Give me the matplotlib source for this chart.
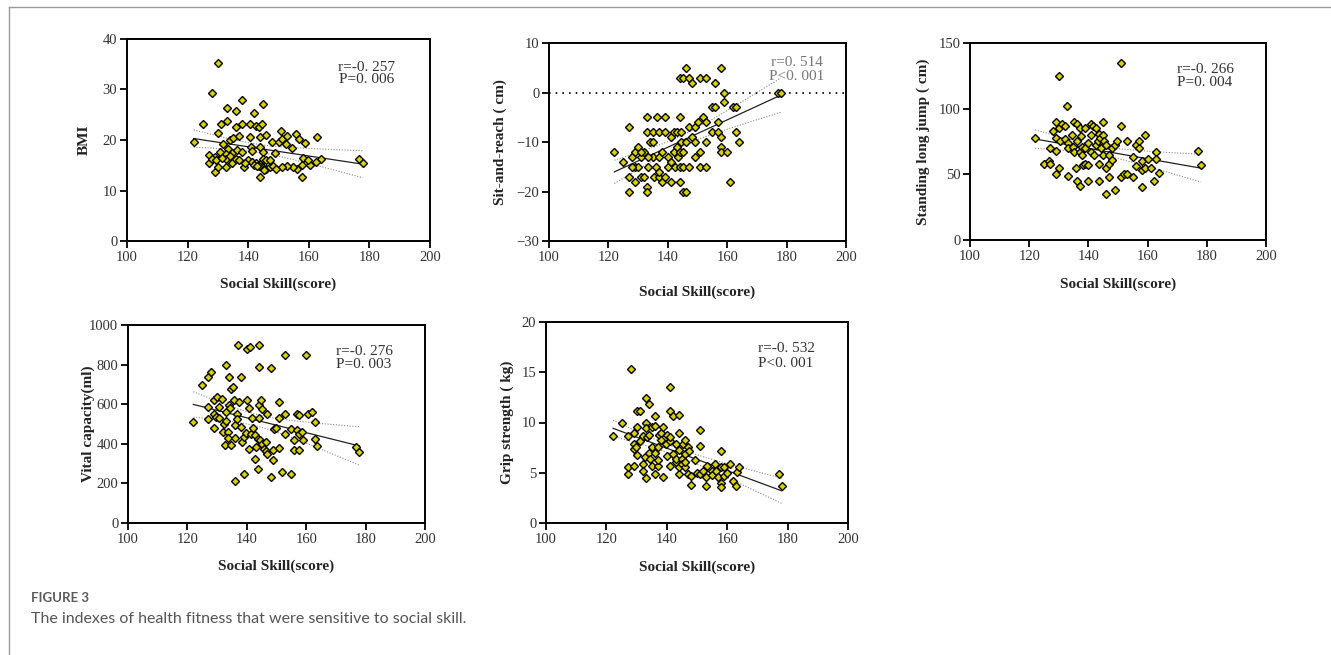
import numpy as np
import matplotlib
matplotlib.use("Agg")
import matplotlib.pyplot as plt
from matplotlib.lines import Line2D

plt.rcParams["font.family"] = ["Liberation Serif", "DejaVu Serif"]

# BMI
bmi_x = [122, 125, 130, 128, 127, 127, 129, 129, 130, 131,
         130, 133, 133, 136, 138, 142, 145, 136, 138, 140.5,
         142.7, 143.6, 144.7, 131.7, 134, 135, 136.8, 133.4, 130.6, 132.6,
         134.8, 136.3, 138.1, 141, 141.4, 140.7, 143.8, 145.8, 143.8, 144.9,
         148, 148.8, 150.8, 150.2, 151.3, 152.8, 152.6, 154.6, 155.7, 156.8,
         158.7, 162.8, 163.9, 162.3, 160.4, 158.1, 159.6, 157.6, 156, 154.8,
         152.9, 151.3, 157.7, 143.8, 176.7, 177.8,
         127.9, 129.5, 132.8, 134.8, 136.1, 137, 138.5, 140, 141.1, 142.5,
         143.8, 144.9, 145.8, 144.7, 143.6, 146, 147.1, 148.2, 149.1, 147.1,
         132.6, 134.1, 131.5, 139, 141.8, 143, 145.2]
bmi_y = [19.7, 23.2, 35.2, 29.3, 17.0, 15.5, 13.6, 16.7, 21.4, 23.1,
         14.7, 23.8, 26.4, 25.8, 27.9, 25.4, 27.2, 22.6, 23.1, 23.1,
         22.7, 22.6, 23.1, 19.3, 20.0, 20.4, 20.8, 18.3, 17.6, 17.2,
         17.5, 18.1, 17.7, 18.6, 17.9, 20.5, 20.5, 21.0, 18.6, 17.7,
         19.6, 17.5, 21.8, 19.6, 20.1, 20.8, 19.3, 18.4, 21.2, 20.1,
         19.4, 20.5, 16.3, 15.7, 15.0, 16.5, 16.1, 15.0, 14.3, 14.7,
         14.8, 14.7, 12.6, 12.7, 16.3, 15.5,
         16.3, 16.0, 14.7, 15.5, 16.3, 16.0, 14.7, 16.0, 15.7, 15.5,
         15.3, 16.3, 16.0, 14.7, 14.8, 14.3, 14.7, 14.9, 14.3, 16.0,
         16.3, 16.8, 16.5, 15.5, 15.1, 14.8, 14.0]

# Sit-and-reach
sr_x = [122, 125, 127, 127, 127, 128, 129, 129, 129, 130,
        130, 131, 131, 132, 133, 133, 133, 133, 132, 133.5,
        134, 135, 135, 135, 135.4, 136, 136.5, 137, 137, 137,
        137.2, 138, 138, 139, 139, 139, 140, 140, 141, 141,
        141, 142, 142, 142.5, 143, 143, 143.4, 144, 144, 144,
        144, 144, 145, 144.5, 144.5, 145, 145, 145, 146, 146,
        146, 147, 147, 147, 148, 148, 149, 149, 149, 150,
        151, 151, 151, 152, 153, 153, 153, 153, 155, 155,
        156, 156, 157, 157, 158, 158, 158, 158, 159, 159,
        160, 161, 162, 163, 163, 164, 177, 178, 128, 131,
        133.5]
sr_y = [-12, -14, -7, -17, -20, -13, -12, -15, -18, -11,
        -15, -13, -17, -17, -5, -8, -19, -20, -12, -15,
        -10, -10, -13, -8, -17, -15, -5, -8, -13, -17,
        -16, -12, -18, -5, -8, -17, -15, -13, -9, -14,
        -18, -8, -12, -15, -8, -11, -13, -15, -5, -12,
        -18, 3, 3, -8, -10, -12, -15, -20, -20, 5,
        -10, -15, -7, 3, 2, -9, -10, -7, -13, -6,
        -12, -15, 3, -5, 3, -6, -10, -15, -8, -3,
        -3, 2, -6, -8, 5, -9, -11, -12, 0, -2,
        -12, -18, -3, -3, -8, -10, 0, 0, -15, -12,
        -13]

# Standing long jump
slj_x = [122, 125, 126.7, 127, 127, 128, 129, 129, 129, 129,
         130, 130, 130, 130.4, 131, 132, 132.7, 133, 132, 133,
         133, 134.4, 134.7, 135, 135, 136, 136, 135.9, 136, 137,
         137, 137, 137.4, 138, 138.3, 138, 138.9, 139, 139, 140,
         140, 140, 141, 141, 141, 141.7, 142, 142.5, 142.6, 143.4,
         143.7, 144, 144.2, 143.7, 143.7, 144.9, 144.9, 144.9, 145.3, 145.9,
         146, 146, 147, 147, 147, 148, 148, 149, 149, 149.8,
         151, 151, 151, 152, 153, 153, 155, 155, 156, 156,
         157, 157, 158, 158, 158, 159, 159, 160, 161, 162,
         163, 163, 164, 177, 178]
slj_y = [78, 58, 60, 58, 70, 83, 90, 50, 68, 78,
         125, 85, 55, 75, 88, 87, 102, 49, 77, 74,
         70, 80, 71, 90, 67, 88, 75, 55, 45, 85,
         41, 67, 79, 71, 57, 65, 58, 85, 70, 57,
         74, 45, 88, 80, 67, 87, 65, 85, 72, 75,
         81, 78, 70, 58, 45, 90, 80, 65, 75, 55,
         35, 72, 65, 58, 48, 61, 70, 72, 38, 75,
         135, 87, 48, 50, 50, 75, 48, 63, 72, 56,
         70, 75, 60, 53, 40, 80, 55, 62, 55, 45,
         67, 62, 51, 68, 57]

# Vital capacity
vc_x = [122, 125, 127, 128, 127, 127, 129, 129, 130, 129,
        129.7, 130.6, 130.8, 131.7, 132, 132.2, 133, 133, 132.8, 133.1,
        134, 134, 133.7, 133.7, 134.5, 134.8, 134.8, 135.5, 135.6, 135.9,
        135.9, 136, 137, 136.7, 136.8, 137.4, 138, 138, 138.5, 139,
        139.2, 140, 140, 139.8, 141, 140.7, 140.9, 141.5, 141.8, 142,
        142.6, 142.6, 143.2, 143.7, 143.7, 144, 144, 144, 144, 144.5,
        144.8, 145, 145.1, 145.7, 146.3, 146.5, 146.9, 146.9, 148, 148.2,
        148.8, 148.8, 149, 149.9, 150.8, 150.8, 151, 151.8, 152.8, 152.8,
        153, 154.8, 154.8, 155.8, 155.8, 156.8, 156.8, 157.7, 157.7, 157.7,
        158.6, 158.9, 160, 160.7, 161.8, 162.8, 162.8, 163.8, 176.8, 177.9]
vc_y = [511, 696, 735, 764, 587, 524, 481, 620, 637, 550,
        533, 587, 528, 624, 460, 499, 798, 562, 393, 516,
        735, 595, 460, 427, 583, 675, 393, 688, 620, 494,
        427, 212, 899, 550, 523, 612, 735, 486, 410, 250,
        435, 877, 620, 455, 890, 583, 376, 447, 528, 481,
        444, 325, 384, 422, 275, 899, 786, 595, 528, 418,
        620, 578, 401, 376, 364, 410, 553, 351, 781, 233,
        371, 317, 477, 481, 379, 528, 612, 258, 553, 449,
        848, 250, 477, 418, 368, 553, 472, 545, 449, 368,
        460, 418, 848, 553, 562, 511, 422, 388, 384, 359]

# Grip strength
grip_x = [122.2, 125.1, 127.1, 127.1, 127.1, 128.1, 129, 129, 129, 129.2,
          129.9, 130.1, 130.1, 131, 130.1, 131.2, 132.1, 132.1, 132.1, 132.9,
          133.1, 133.1, 133.1, 133.1, 133.4, 134.1, 134, 134, 134.3, 135.1,
          135.1, 135.1, 136, 136.1, 136, 136.2, 137, 137, 137, 137.3,
          138.1, 138, 138.9, 138.9, 139.8, 140, 140, 140.9, 141.1, 141.1,
          141.1, 141.1, 141.9, 142.2, 143, 143.1, 143.1, 143.9, 144.1, 144.1,
          144.1, 144.2, 145, 145, 145.2, 146.1, 145.9, 146.1, 146.1, 147,
          147, 147.2, 148.1, 148.1, 149.2, 149.9, 151, 151, 151, 152.1,
          153.2, 153, 153.1, 154.9, 155, 155.9, 156.2, 156.8, 158, 158,
          158, 158, 158.9, 158.9, 159.9, 161, 161.9, 163, 163.2, 164,
          177, 178.1]
grip_y = [8.7, 9.95, 4.9, 5.6, 8.7, 15.3, 9.0, 5.7, 7.9, 7.4,
          7.6, 9.6, 11.1, 11.1, 6.8, 8.2, 8.7, 5.9, 5.2, 6.6,
          4.5, 12.4, 9.95, 9.5, 8.6, 11.8, 7.0, 8.8, 6.4, 7.6,
          5.7, 9.6, 10.6, 4.9, 9.7, 7.0, 7.6, 5.7, 6.3, 8.8,
          9.0, 8.3, 9.6, 4.6, 7.9, 6.7, 8.8, 8.2, 13.5, 11.1,
          8.6, 5.7, 10.6, 6.9, 7.9, 6.1, 6.4, 7.3, 9.0, 10.7,
          4.9, 5.6, 6.4, 5.9, 7.9, 8.3, 6.9, 5.6, 6.1, 7.6,
          4.9, 7.2, 3.8, 4.7, 6.3, 5.0, 9.3, 7.7, 4.9, 5.2,
          5.7, 3.7, 4.6, 5.2, 4.8, 5.9, 5.2, 4.6, 7.2, 5.6,
          4.0, 3.6, 5.6, 4.7, 5.0, 5.9, 4.2, 3.7, 5.1, 5.6,
          4.9, 3.7]

W, H = 1331, 655
fig = plt.figure(figsize=(W / 100, H / 100), dpi=100)


def fit_band(x, y):
    x = np.asarray(x, float)
    y = np.asarray(y, float)
    n = len(x)
    b, a = np.polyfit(x, y, 1)
    xs = np.linspace(x.min(), x.max(), 60)
    yf = a + b * xs
    s = np.sqrt(np.sum((y - (a + b * x)) ** 2) / (n - 2))
    se = s * np.sqrt(1 / n + (xs - x.mean()) ** 2 / np.sum((x - x.mean()) ** 2))
    return xs, yf, yf - 1.98 * se, yf + 1.98 * se


def panel(box, x, y, ylim, yticks, ylabel, r_txt, p_txt, txt_pos, ylab_x, xlab_y,
          txt_color="#333333", zero_line=False):
    l, t, r, b = box
    ax = fig.add_axes([l / W, 1 - b / H, (r - l) / W, (b - t) / H])
    if zero_line:
        ax.axhline(0, color="black", lw=1.2, ls=(0, (1, 3)), zorder=1)
    xs, yf, lo, hi = fit_band(x, y)
    ax.plot(xs, lo, color="#8a8a8a", lw=0.8, ls=(0, (1, 1.5)), zorder=2)
    ax.plot(xs, hi, color="#8a8a8a", lw=0.8, ls=(0, (1, 1.5)), zorder=2)
    ax.plot(xs, yf, color="#222222", lw=0.9, zorder=2)
    ax.plot(x, y, ls="none", marker="D", ms=3.6, mfc="#d8cf00", mec="black",
            mew=1.0, zorder=3)
    ax.set_xlim(100, 200)
    ax.set_xticks([100, 120, 140, 160, 180, 200])
    ax.set_ylim(*ylim)
    ax.set_yticks(yticks)
    for s in ax.spines.values():
        s.set_linewidth(1.4)
    ax.tick_params(direction="out", length=5, width=1.3, labelsize=10.5, pad=2,
                   colors="black", labelcolor="#333333")
    ax.set_xlabel("Social Skill(score)", fontsize=11, fontweight="bold", color="#222222")
    ax.set_ylabel(ylabel, fontsize=11, fontweight="bold", color="#222222")
    ax.xaxis.label.set_va("center")
    ax.yaxis.label.set_va("center")
    ax.xaxis.set_label_coords(0.5, xlab_y)
    ax.yaxis.set_label_coords(ylab_x, 0.5)
    tx, ty_r, ty_p = txt_pos
    ax.text(tx, ty_r, r_txt, transform=ax.transAxes, ha="center", va="center",
            fontsize=11, color=txt_color)
    ax.text(tx, ty_p, p_txt, transform=ax.transAxes, ha="center", va="center",
            fontsize=11, color=txt_color)
    return ax


panel((127, 39, 430, 241), bmi_x, bmi_y, (0, 40), [0, 10, 20, 30, 40], "BMI",
      "r=-0. 257", "P=0. 006", (0.79, 0.86, 0.80), -0.142, -0.213)
panel((549, 43, 846, 241), sr_x, sr_y, (-30, 10), [-30, -20, -10, 0, 10],
      "Sit-and-reach ( cm)", "r=0. 514", "P<0. 001", (0.835, 0.90, 0.833),
      -0.165, -0.258, txt_color="#777777", zero_line=True)
panel((970, 43, 1266, 240), slj_x, slj_y, (0, 150), [0, 50, 100, 150],
      "Standing long jump ( cm)", "r=-0. 266", "P=0. 004", (0.794, 0.863, 0.797),
      -0.159, -0.223)
panel((128, 325, 425, 523), vc_x, vc_y, (0, 1000), [0, 200, 400, 600, 800, 1000],
      "Vital capacity(ml)", "r=-0. 276", "P=0. 003", (0.795, 0.864, 0.80),
      -0.135, -0.217)
panel((546, 322, 848, 523), grip_x, grip_y, (0, 20), [0, 5, 10, 15, 20],
      "Grip strength ( kg)", "r=-0. 532", "P<0. 001", (0.795, 0.866, 0.796),
      -0.129, -0.219)

# frame of the figure box
fig.add_artist(Line2D([9 / W, 9 / W], [0, 1 - 7 / H], transform=fig.transFigure,
                      color="#9a9a9a", lw=1))
fig.add_artist(Line2D([9 / W, 1], [1 - 7 / H, 1 - 7 / H], transform=fig.transFigure,
                      color="#9a9a9a", lw=1))

fig.text(31 / W, 1 - 598 / H, "FIGURE 3", family="Lato", fontsize=9.5,
         fontweight="bold", color="#5a5a5a", va="center")
fig.text(31 / W, 1 - 619 / H, "The indexes of health fitness that were sensitive to social skill.",
         family="Lato", fontsize=11.5, color="#555555", va="center")

fig.savefig("out.png", dpi=100)
